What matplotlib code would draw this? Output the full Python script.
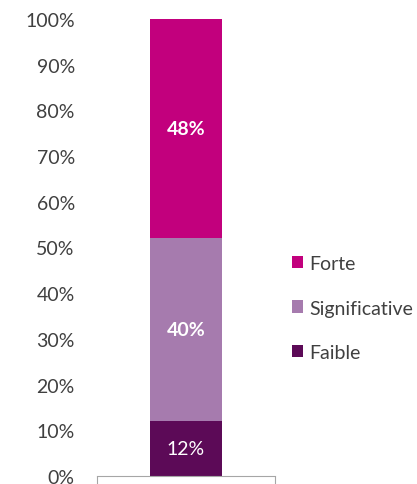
import matplotlib.pyplot as plt

categories = ['Faible', 'Significative', 'Forte']
values = [12, 40, 48]
labels = ['12%', '40%', '48%']
colors = ['#5C0A57', '#A67BAE', '#C2007D']
ticks = [0, 10, 20, 30, 40, 50, 60, 70, 80, 90, 100]

plt.rcParams['font.family'] = ['Lato', 'DejaVu Sans']

fig = plt.figure(figsize=(4.17, 4.85), dpi=100)
ax = fig.add_axes([97 / 417, 8 / 485, 178 / 417, 457 / 485])

bottom = 0
handles = []
for cat, val, lab, col in zip(categories, values, labels, colors):
    b = ax.bar(0, val, width=0.4, bottom=bottom, color=col, label=cat)
    handles.append(b)
    weight = 'normal' if cat == 'Faible' else 'bold'
    ax.text(0, bottom + val / 2, lab, ha='center', va='center',
            color='white', fontsize=14, fontweight=weight)
    bottom += val

ax.set_xlim(-0.5, 0.5)
ax.set_ylim(0, 100)
ax.set_yticks(ticks)
ax.set_yticklabels([f'{t}%' for t in ticks])
ax.set_xticks([-0.5, 0.5])
ax.set_xticklabels(['', ''])
ax.tick_params(axis='y', length=0, labelsize=14, labelcolor='#404040', pad=16)
ax.tick_params(axis='x', length=7, color='#A6A6A6', direction='out')
for s in ['left', 'right', 'top']:
    ax.spines[s].set_visible(False)
ax.spines['bottom'].set_color('#A6A6A6')

leg = fig.legend(handles[::-1], categories[::-1], loc='center left',
                 bbox_to_anchor=(274 / 417, 1 - 309 / 485), frameon=False,
                 fontsize=14, labelcolor='#404040', handlelength=0.6,
                 handleheight=0.6, handletextpad=0.32, labelspacing=1.42)

fig.savefig('out.png', dpi=100)
